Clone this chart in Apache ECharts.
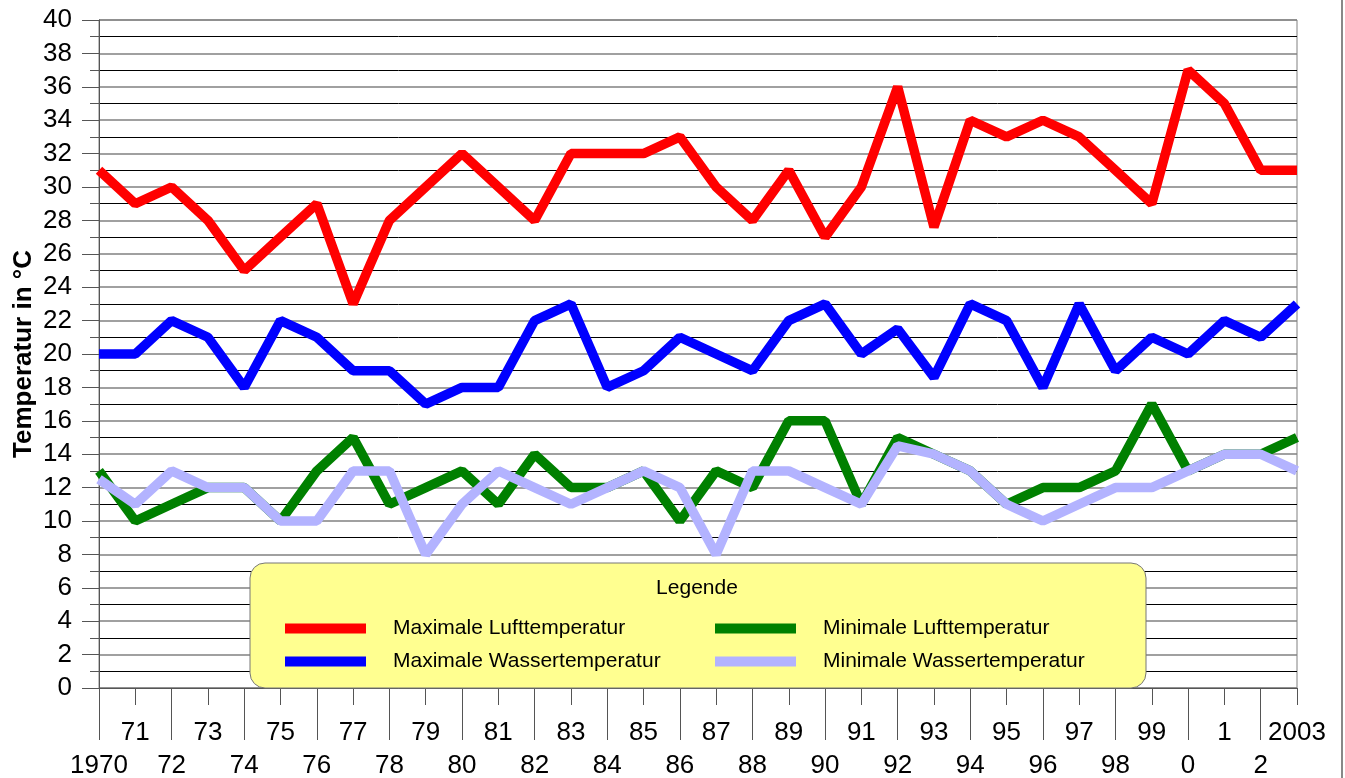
<!DOCTYPE html>
<html>
<head>
<meta charset="utf-8">
<script src="https://cdn.jsdelivr.net/npm/echarts@6/dist/echarts.min.js"></script>
<style>
  html, body { margin: 0; padding: 0; background: #fff; }
  #chart { width: 1345px; height: 778px; }
</style>
</head>
<body>
<div id="chart"></div>
<script>
// x-axis tick labels, one per year 1970..2003
const yearLabels = ['1970', '71', '72', '73', '74', '75', '76', '77', '78', '79',
    '80', '81', '82', '83', '84', '85', '86', '87', '88', '89',
    '90', '91', '92', '93', '94', '95', '96', '97', '98', '99',
    '0', '1', '2', '2003'];

const maxLuft = [31, 29, 30, 28, 25, 27, 29, 23, 28, 30,
    32, 30, 28, 32, 32, 32, 33, 30, 28, 31,
    27, 30, 36, 27.6, 34, 33, 34, 33, 31, 29,
    37, 35, 31, 31];
const maxWasser = [20, 20, 22, 21, 18, 22, 21, 19, 19, 17,
    18, 18, 22, 23, 18, 19, 21, 20, 19, 22,
    23, 20, 21.5, 18.6, 23, 22, 18, 23, 19, 21,
    20, 22, 21, 23];
const minLuft = [13, 10, 11, 12, 12, 10, 13, 15, 11, 12,
    13, 11, 14, 12, 12, 13, 10, 13, 12, 16,
    16, 11, 15, 14, 13, 11, 12, 12, 13, 17,
    13, 14, 14, 15];
const minWasser = [12.5, 11, 13, 12, 12, 10, 10, 13, 13, 8,
    11, 13, 12, 11, 12, 13, 12, 8, 13, 13,
    12, 11, 14.5, 14, 13, 11, 10, 11, 12, 12,
    13, 14, 14, 13];

const seriesNames = ['Maximale Lufttemperatur', 'Maximale Wassertemperatur',
    'Minimale Lufttemperatur', 'Minimale Wassertemperatur'];
const seriesColors = ['#ff0000', '#0000ff', '#008000', '#b3b3ff'];
const seriesData = [maxLuft, maxWasser, minLuft, minWasser];

const chart = echarts.init(document.getElementById('chart'));

const gridBox = { left: 99, right: 48, top: 20, bottom: 90, outerBoundsMode: 'none', containLabel: false };

function legendAt(name, left, top) {
    return {
        data: [name],
        left: left,
        top: top,
        padding: 0,
        icon: 'rect',
        itemWidth: 81,
        itemHeight: 10,
        selectedMode: false,
        textStyle: {
            fontFamily: 'Liberation Sans',
            fontSize: 21,
            lineHeight: 20,
            color: '#000',
            padding: [0, 0, 0, 22]
        }
    };
}

const option = {
    animation: false,
    backgroundColor: '#fff',
    textStyle: { fontFamily: 'Liberation Sans' },
    grid: [
        Object.assign({ show: true, borderColor: '#808080', borderWidth: 1, backgroundColor: 'transparent' }, gridBox),
        Object.assign({}, gridBox)
    ],
    xAxis: [{
        gridIndex: 0,
        type: 'category',
        boundaryGap: false,
        data: yearLabels,
        axisLine: { lineStyle: { color: '#555', width: 1 } },
        axisTick: {
            length: 52,
            interval: function (i) { return i % 2 === 0; },
            lineStyle: { color: '#555' }
        },
        axisLabel: {
            interval: 0,
            margin: 28,
            fontSize: 26,
            lineHeight: 33,
            color: '#000',
            formatter: function (v, i) { return i % 2 === 0 ? '\n' + v : v; }
        },
        splitLine: { show: false }
    }, {
        gridIndex: 1,
        type: 'category',
        boundaryGap: false,
        data: yearLabels,
        axisLine: { show: false },
        axisTick: {
            length: 17,
            interval: function (i) { return i % 2 === 1; },
            lineStyle: { color: '#555' }
        },
        axisLabel: { show: false },
        splitLine: { show: false }
    }],
    yAxis: [{
        gridIndex: 0,
        type: 'value',
        min: 0,
        max: 40,
        interval: 2,
        name: 'Temperatur in °C',
        nameLocation: 'middle',
        nameGap: 62,
        nameMoveOverlap: false,
        nameTextStyle: { fontSize: 26, fontWeight: 'bold', color: '#000' },
        axisLine: { show: true, lineStyle: { color: '#555', width: 1 } },
        axisTick: { show: true, length: 17, lineStyle: { color: '#555' } },
        minorTick: { show: true, splitNumber: 2, length: 9, lineStyle: { color: '#555' } },
        axisLabel: { margin: 27, fontSize: 26, color: '#000' },
        splitLine: { show: true, lineStyle: { color: '#808080', width: 1.5 } },
        minorSplitLine: { show: true, lineStyle: { color: '#000', width: 1 } }
    }, {
        gridIndex: 1,
        type: 'value',
        min: 0,
        max: 40,
        show: false
    }],
    legend: [
        legendAt(seriesNames[0], 285, 618),
        legendAt(seriesNames[1], 285, 651),
        legendAt(seriesNames[2], 715, 618),
        legendAt(seriesNames[3], 715, 651)
    ],
    graphic: [{
        type: 'rect',
        z: 1,
        shape: { x: 250, y: 563, width: 896, height: 125, r: 15 },
        style: { fill: '#ffff90', stroke: '#777', lineWidth: 1 }
    }, {
        type: 'text',
        z: 1,
        x: 697,
        y: 588,
        style: {
            text: 'Legende',
            fontFamily: 'Liberation Sans',
            fontSize: 21,
            fill: '#000',
            align: 'center',
            verticalAlign: 'middle'
        }
    }, {
        type: 'line',
        z: 1,
        shape: { x1: 1342, y1: 0, x2: 1342, y2: 778 },
        style: { stroke: '#888', lineWidth: 2 }
    }],
    series: seriesData.map(function (d, k) {
        return {
            name: seriesNames[k],
            type: 'line',
            xAxisIndex: 0,
            yAxisIndex: 0,
            data: d,
            showSymbol: false,
            symbol: 'none',
            color: seriesColors[k],
            lineStyle: { color: seriesColors[k], width: 9.5, join: 'bevel', cap: 'butt' },
            z: 3 + k
        };
    })
};

chart.setOption(option);
</script>
</body>
</html>
